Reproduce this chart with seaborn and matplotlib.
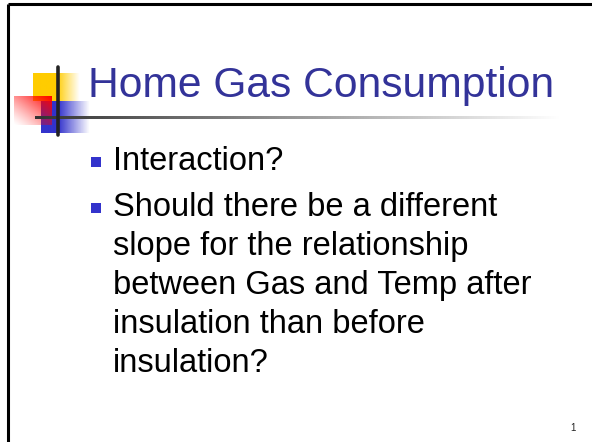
import numpy as np
import matplotlib.pyplot as plt
import seaborn as sns

title = "Home Gas Consumption"
bullets = [
    ["Interaction?"],
    ["Should there be a different",
     "slope for the relationship",
     "between Gas and Temp after",
     "insulation than before",
     "insulation?"],
]
page_number = "1"

sns.set_style("white")
plt.rcParams['font.family'] = ['Liberation Sans', 'DejaVu Sans']

fig = plt.figure(figsize=(5.92, 4.42), dpi=100)
ax = fig.add_axes([0, 0, 1, 1])
ax.set_xlim(0, 592)
ax.set_ylim(442, 0)
ax.axis('off')

# slide frame (top and left edges only are visible)
ax.plot([7.5, 592], [3.5, 3.5], color='black', lw=2.2, solid_capstyle='butt')
ax.plot([7.5, 7.5], [3.5, 442], color='black', lw=2.2, solid_capstyle='butt')


def fade_box(x0, x1, y0, y1, rgb, solid_frac_x=0.0, diag=False):
    n = 64
    gx = np.linspace(0, 1, n)
    gy = np.linspace(0, 1, n)
    X, Y = np.meshgrid(gx, gy)
    if diag:
        # strongest at top-right, fading to bottom-left
        a = np.clip(0.5 * (X + (1 - Y)), 0, 1) ** 1.2
    else:
        a = np.where(X < solid_frac_x, 1.0,
                     1 - (X - solid_frac_x) / (1 - solid_frac_x))
    img = np.zeros((n, n, 4))
    img[..., :3] = rgb
    img[..., 3] = a
    ax.imshow(img, extent=[x0, x1, y1, y0], aspect='auto', interpolation='bilinear', zorder=2)


# logo
fade_box(33, 80, 73, 101, (1.0, 0.80, 0.0), solid_frac_x=0.5)
fade_box(41, 90, 101, 133, (0.2, 0.2, 0.8), solid_frac_x=0.35)
fade_box(14, 52, 96, 125, (1.0, 0.0, 0.0), diag=True)

# title underline with fade
line = np.ones((1, 256, 4))
t = np.linspace(0, 1, 256)
line[0, :, 0] = 0.2 + 0.8 * t
line[0, :, 1] = 0.2 + 0.8 * t
line[0, :, 2] = 0.2 + 0.8 * t
ax.imshow(line, extent=[35, 560, 119.3, 116.7], aspect='auto', zorder=3)
ax.plot([57.7, 57.7], [67, 135], color='#222222', lw=2.6, zorder=4)
ax.set_xlim(0, 592)
ax.set_ylim(442, 0)

ax.text(88, 97, title, fontsize=30.7, color='#333399', va='baseline', ha='left', zorder=5)

baseline = 170
for i, lines in enumerate(bullets):
    if i > 0:
        baseline += 46
    ax.scatter([96], [baseline - 8], marker='s', s=52, color='#3333CC', linewidths=0, zorder=5)
    for j, txt in enumerate(lines):
        ax.text(113, baseline + 39 * j, txt, fontsize=23.5, color='black', va='baseline', ha='left')
    baseline += 39 * (len(lines) - 1)

ax.text(573, 431, page_number, fontsize=7, color='#222222', va='baseline', ha='center')

fig.savefig('out.png', dpi=100, facecolor='white')
